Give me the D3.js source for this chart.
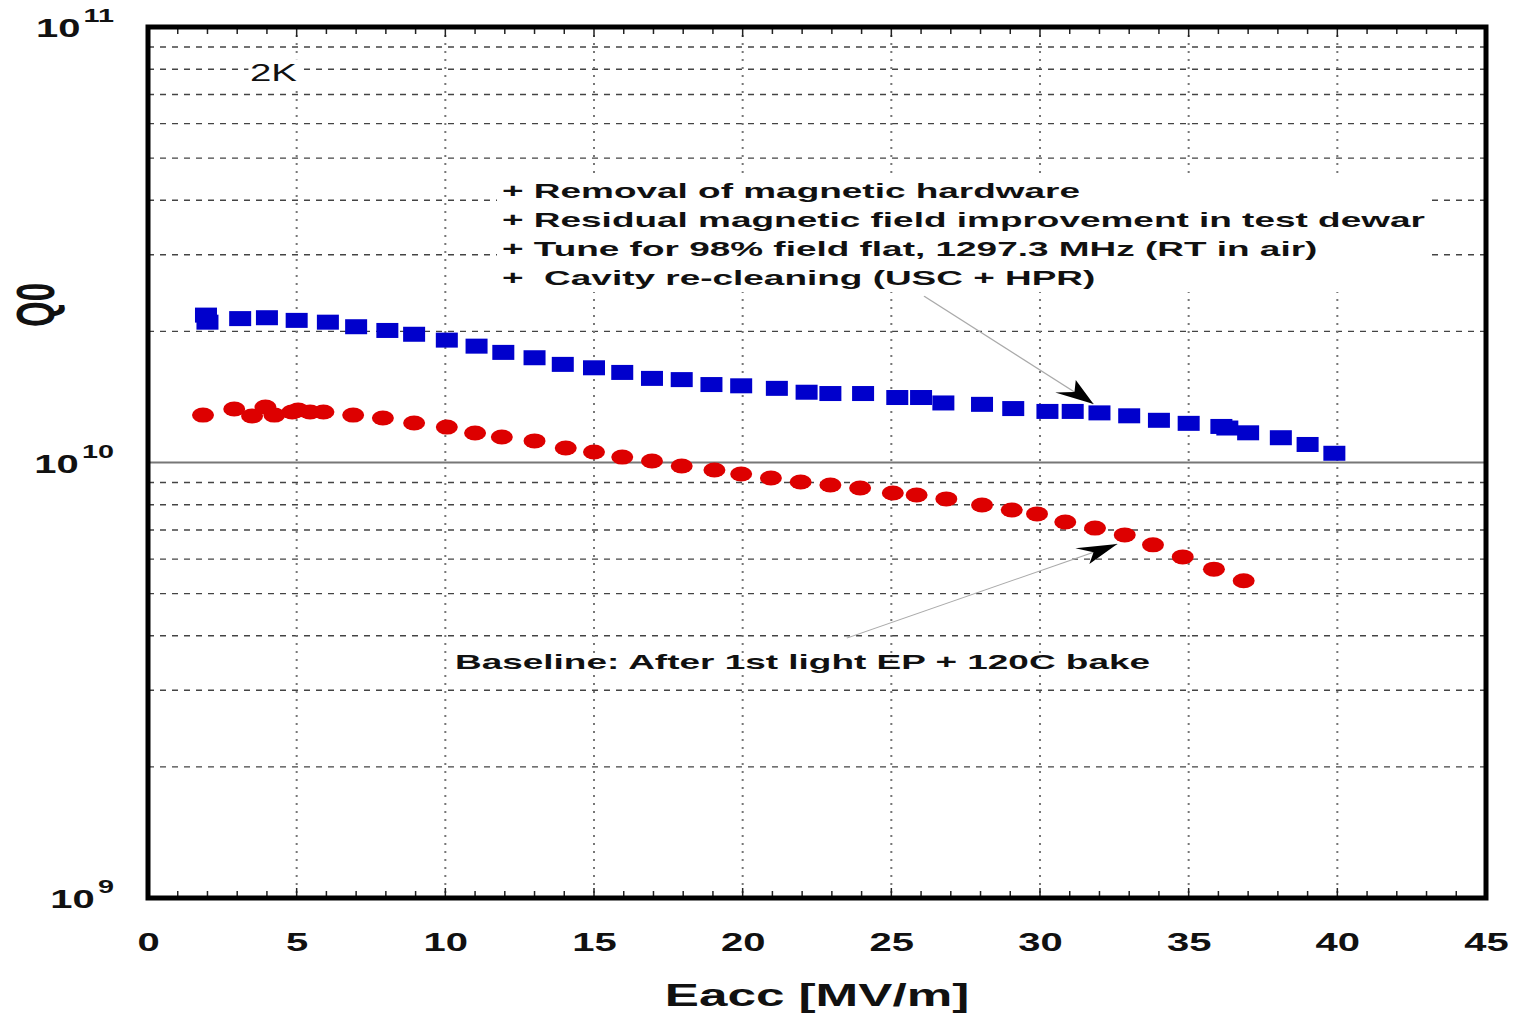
<!DOCTYPE html>
<html>
<head>
<meta charset="utf-8">
<script src="https://cdn.jsdelivr.net/npm/d3@7"></script>
<style>
  body { margin: 0; background: #fff; }
  svg { display: block; }
  text { font-family: "Liberation Sans", Arial, sans-serif; }
</style>
</head>
<body>
<svg id="chart" width="1515" height="1014"></svg>
<script>
// after the fixes (blue squares)
const improvedEacc = [1.95, 2.0, 3.1, 4.0, 5.0, 6.05, 7.0, 8.05, 8.95, 10.05, 11.05, 11.95, 13.0, 13.95,
  15.0, 15.95, 16.95, 17.95, 18.95, 19.95, 21.15, 22.15, 22.95, 24.05, 25.2, 26.0, 26.75, 28.05, 29.1,
  30.25, 31.1, 32.0, 33.0, 34.0, 35.0, 36.1, 36.3, 37.0, 38.1, 39.0, 39.9];
const improvedQ0 = [2.18e10, 2.10e10, 2.14e10, 2.15e10, 2.12e10, 2.10e10, 2.05e10, 2.01e10, 1.97e10, 1.91e10,
  1.85e10, 1.79e10, 1.74e10, 1.68e10, 1.65e10, 1.61e10, 1.56e10, 1.55e10, 1.51e10, 1.50e10, 1.48e10, 1.45e10,
  1.44e10, 1.44e10, 1.41e10, 1.41e10, 1.37e10, 1.36e10, 1.33e10, 1.31e10, 1.31e10, 1.30e10, 1.28e10, 1.25e10,
  1.23e10, 1.21e10, 1.20e10, 1.17e10, 1.14e10, 1.10e10, 1.05e10];

// baseline (red dots)
const baselineEacc = [1.85, 2.9, 3.5, 3.95, 4.25, 4.85, 5.05, 5.45, 5.9, 6.9, 7.9, 8.95, 10.05, 11.0, 11.9,
  13.0, 14.05, 15.0, 15.95, 16.95, 17.95, 19.05, 19.95, 20.95, 21.95, 22.95, 23.95, 25.05, 25.85, 26.85,
  28.05, 29.05, 29.9, 30.85, 31.85, 32.85, 33.8, 34.8, 35.85, 36.85];
const baselineQ0 = [1.285e10, 1.327e10, 1.279e10, 1.341e10, 1.285e10, 1.306e10, 1.320e10, 1.306e10, 1.306e10,
  1.285e10, 1.265e10, 1.232e10, 1.206e10, 1.169e10, 1.144e10, 1.121e10, 1.080e10, 1.057e10, 1.029e10, 1.008e10,
  9.82e9, 9.61e9, 9.41e9, 9.21e9, 9.02e9, 8.88e9, 8.74e9, 8.51e9, 8.42e9, 8.25e9, 7.99e9, 7.78e9, 7.62e9,
  7.30e9, 7.07e9, 6.82e9, 6.47e9, 6.07e9, 5.69e9, 5.35e9];

const xTickValues = [0, 5, 10, 15, 20, 25, 30, 35, 40, 45];
const yTickValues = [1e9, 1e10, 1e11];
const yTickExponents = ['9', '10', '11'];

const annotationLines = [
  '+ Removal of magnetic hardware',
  '+ Residual magnetic field improvement in test dewar',
  '+ Tune for 98% field flat, 1297.3 MHz (RT in air)',
  '+  Cavity re-cleaning (USC + HPR)'
];
const baselineLabel = 'Baseline: After 1st light EP + 120C bake';
const tempLabel = '2K';
// arrows: [fromE, fromQ, toE, toQ]
const arrowImproved = [26.1, 2.41e10, 31.8, 1.362e10];
const arrowBaseline = [23.5, 3.95e9, 32.6, 6.5e9];

// the original picture is stretched sideways
const STRETCH = 1.6;
const NOTE_STRETCH = 1.76;

let svg = d3.select('#chart');
svg.append('rect').attr('width', 1515).attr('height', 1014).attr('fill', '#fff');

let plotLeft = 148, plotRight = 1486, plotTop = 27, plotBottom = 898;

let x = d3.scaleLinear().domain([0, 45]).range([plotLeft, plotRight]);
let y = d3.scaleLog().domain([1e9, 1e11]).range([plotBottom, plotTop]);

function stretched(parent, px, py, s = STRETCH) {
    return parent.append('g')
        .attr('transform', `translate(${px},${py}) scale(${s},1)`);
}

// grid
let grid = svg.append('g');
let yMinor = y.ticks().filter(v => Math.abs(Math.log10(v) - Math.round(Math.log10(v))) > 1e-6);
grid.selectAll('.hgrid').data(yMinor).enter().append('line')
    .attr('x1', plotLeft).attr('x2', plotRight)
    .attr('y1', d => y(d)).attr('y2', d => y(d))
    .attr('stroke', '#444').attr('stroke-width', 1.4)
    .attr('stroke-dasharray', '6,6');
grid.selectAll('.vgrid').data(xTickValues.slice(1, -1)).enter().append('line')
    .attr('x1', d => x(d)).attr('x2', d => x(d))
    .attr('y1', plotTop).attr('y2', plotBottom)
    .attr('stroke', '#777').attr('stroke-width', 2)
    .attr('stroke-dasharray', '2,6');
grid.append('line')
    .attr('x1', plotLeft).attr('x2', plotRight)
    .attr('y1', y(1e10)).attr('y2', y(1e10))
    .attr('stroke', '#777').attr('stroke-width', 2);

// temperature label with white backing
let tempG = stretched(svg, 250, 81);
let tempT = tempG.append('text').text(tempLabel)
    .attr('font-size', 24).attr('fill', '#111');
let tb = tempT.node().getBBox();
tempG.insert('rect', 'text')
    .attr('x', tb.x - 1).attr('y', tb.y).attr('width', tb.width + 2).attr('height', tb.height)
    .attr('fill', '#fff');

// annotation block
let noteG = svg.append('g');
noteG.append('rect').attr('fill', '#fff')
    .attr('x', 497).attr('y', 174).attr('width', 1432 - 497).attr('height', 292 - 174);
annotationLines.forEach((line, i) => {
    stretched(noteG, 502, 198 + i * 29, NOTE_STRETCH).append('text')
        .text(line)
        .style('white-space', 'pre')
        .attr('font-size', 21).attr('font-weight', 'bold').attr('fill', '#111');
});

stretched(svg, 455, 669, NOTE_STRETCH).append('text')
    .text(baselineLabel)
    .attr('font-size', 21).attr('font-weight', 'bold').attr('fill', '#111');

// arrows, drawn in unstretched space so the heads look like the original
let arrowG = svg.append('g').attr('transform', `scale(${STRETCH},1)`);
function drawArrow(a) {
    let x1 = x(a[0]) / STRETCH, y1 = y(a[1]);
    let x2 = x(a[2]) / STRETCH, y2 = y(a[3]);
    let ang = Math.atan2(y2 - y1, x2 - x1) * 180 / Math.PI;
    arrowG.append('line')
        .attr('x1', x1).attr('y1', y1).attr('x2', x2).attr('y2', y2)
        .attr('stroke', '#aaa').attr('stroke-width', 1);
    arrowG.append('path')
        .attr('d', 'M0,0 L-25,-9 L-17,0 L-25,9 Z')
        .attr('transform', `translate(${x2},${y2}) rotate(${ang})`)
        .attr('fill', '#000');
}
drawArrow(arrowImproved);
drawArrow(arrowBaseline);

// data
let improved = improvedEacc.map((e, i) => ({ e, q: improvedQ0[i] }));
let baseline = baselineEacc.map((e, i) => ({ e, q: baselineQ0[i] }));

svg.append('g').selectAll('ellipse').data(baseline).enter().append('ellipse')
    .attr('cx', d => x(d.e)).attr('cy', d => y(d.q))
    .attr('rx', 11).attr('ry', 7.5)
    .attr('fill', '#dd0000');

svg.append('g').selectAll('rect').data(improved).enter().append('rect')
    .attr('x', d => x(d.e) - 11).attr('y', d => y(d.q) - 7.5)
    .attr('width', 22).attr('height', 15)
    .attr('fill', '#0000cc');

// minor ticks top and bottom
let ticksG = svg.append('g');
let xMinor = x.ticks(45).filter(v => v > 0 && v < 45);
ticksG.selectAll('.tb').data(xMinor).enter().append('line')
    .attr('x1', d => x(d)).attr('x2', d => x(d))
    .attr('y1', plotBottom).attr('y2', d => plotBottom - (d % 5 === 0 ? 10 : 7))
    .attr('stroke', '#222').attr('stroke-width', 1.5);
ticksG.selectAll('.tt').data(xMinor).enter().append('line')
    .attr('x1', d => x(d)).attr('x2', d => x(d))
    .attr('y1', plotTop).attr('y2', d => plotTop + (d % 5 === 0 ? 10 : 7))
    .attr('stroke', '#222').attr('stroke-width', 1.5);

// frame
svg.append('rect')
    .attr('x', plotLeft).attr('y', plotTop)
    .attr('width', plotRight - plotLeft).attr('height', plotBottom - plotTop)
    .attr('fill', 'none').attr('stroke', '#000').attr('stroke-width', 5);

// x axis labels
let xAxis = d3.axisBottom(x).tickValues(xTickValues).tickSize(0).tickFormat(d3.format('d'));
let xAxisG = svg.append('g').attr('transform', 'translate(0,951)').call(xAxis);
xAxisG.select('.domain').remove();
xAxisG.selectAll('text')
    .attr('y', 0).attr('dy', 0)
    .attr('transform', `scale(${STRETCH},1)`)
    .attr('font-family', '"Liberation Sans", Arial, sans-serif')
    .attr('font-size', 25).attr('font-weight', 'bold').attr('fill', '#111');

// y axis labels (powers of ten)
yTickValues.forEach((v, i) => {
    let t = stretched(svg, 114, y(v) + 10).append('text')
        .attr('text-anchor', 'end')
        .attr('font-size', 25).attr('font-weight', 'bold').attr('fill', '#111');
    t.append('tspan').text('10');
    t.append('tspan').text(yTickExponents[i]).attr('font-size', 18).attr('dx', 2).attr('dy', -15);
});

// axis titles
stretched(svg, 817, 1006).append('text')
    .text('Eacc [MV/m]')
    .attr('text-anchor', 'middle')
    .attr('font-size', 32).attr('font-weight', 'bold').attr('fill', '#111');

svg.append('g')
    .attr('transform', `translate(54,305) scale(${STRETCH},1) rotate(-90)`)
    .append('text')
    .text('Q0')
    .attr('text-anchor', 'middle')
    .attr('font-size', 33).attr('font-weight', 'bold').attr('fill', '#111');
</script>
</body>
</html>
